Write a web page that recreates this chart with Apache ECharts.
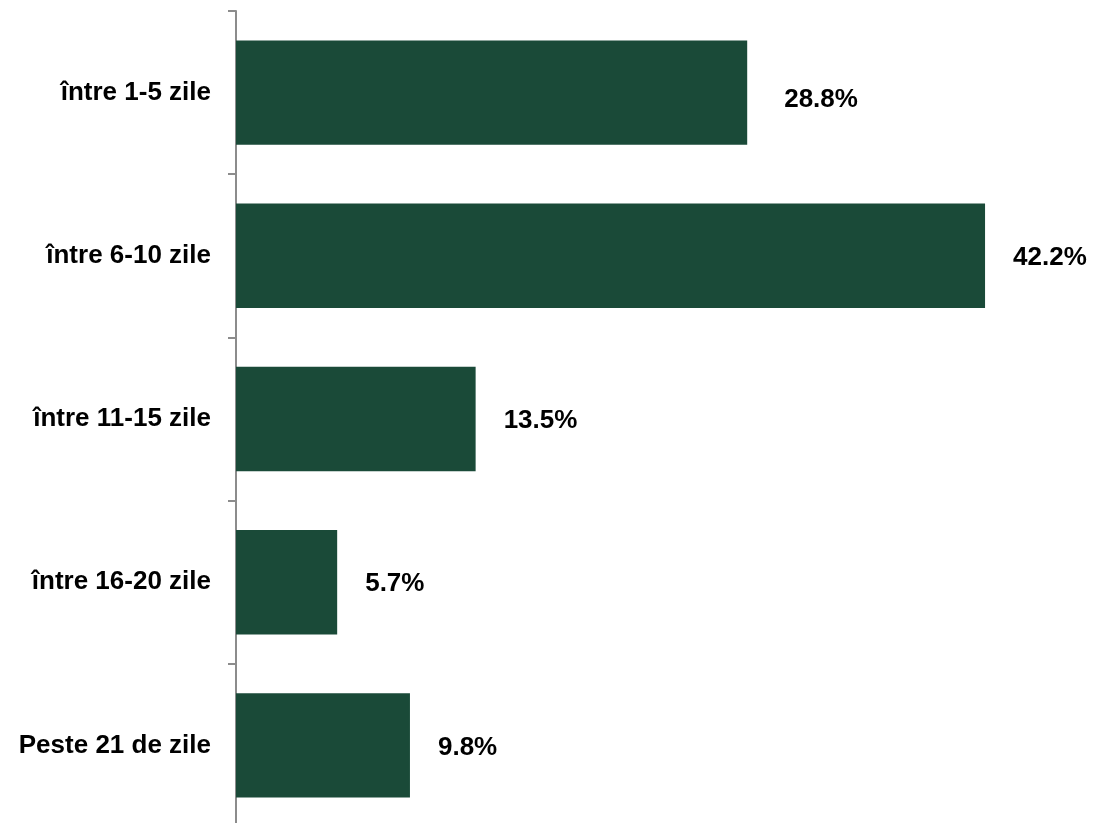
<!DOCTYPE html>
<html><head><meta charset="utf-8">
<script src="https://cdn.jsdelivr.net/npm/echarts@6/dist/echarts.min.js"></script>
<style>html,body{margin:0;padding:0;background:#fff;overflow:hidden}#c{width:1094px;height:840px}</style>
</head><body><div id="c"></div>
<script>
const categories = ["între 1-5 zile","între 6-10 zile","între 11-15 zile","între 16-20 zile","Peste 21 de zile"];
const values = [28.8, 42.2, 13.5, 5.7, 9.8];

const chart = echarts.init(document.getElementById('c'), null, {renderer:'canvas'});
chart.setOption({
  animation:false,
  grid:{left:236, right:6, top:11, bottom:13, containLabel:false},
  xAxis:{type:'value', min:0, max:48, show:false},
  yAxis:{type:'category', inverse:true, data:categories,
    axisLine:{show:true, lineStyle:{color:'#8c8c8c', width:2}},
    axisTick:{show:true, length:8, lineStyle:{color:'#8c8c8c', width:2}},
    axisLabel:{margin:25, fontFamily:'Liberation Sans, Arial, sans-serif', fontWeight:'bold', fontSize:26, color:'#000'}
  },
  series:[{type:'bar',
    data:values.map((v,i)=> i===0 ? {value:v, label:{offset:[9,7]}} : v),
    barCategoryGap:'36%',
    itemStyle:{color:'#1a4a38'},
    label:{show:true, position:'right', distance:28, offset:[0,2], formatter:p=>p.value.toFixed(1)+'%',
      fontFamily:'Liberation Sans, Arial, sans-serif', fontWeight:'bold', fontSize:26, color:'#000'}
  }]
});
</script></body></html>
